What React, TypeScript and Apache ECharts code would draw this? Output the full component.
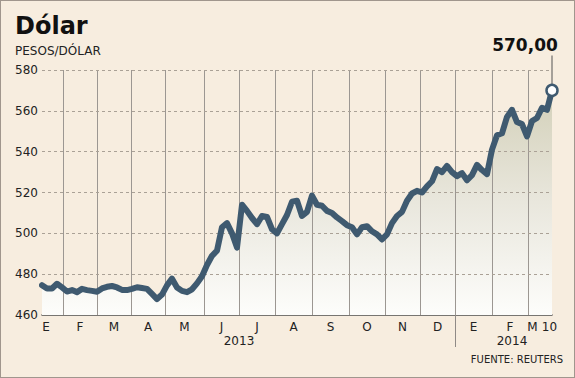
import React, { useEffect, useRef } from 'react';
import * as echarts from 'echarts';

// Daily-ish closing rate samples (pesos per dollar), Jan 2013 -> 10 Mar 2014
const values: number[] = [
  474.6, 473.0, 473.0, 475.3, 473.5, 471.5, 472.2, 471.2, 472.8, 472.2,
  471.8, 471.4, 473.0, 473.8, 474.2, 473.5, 472.3, 472.2, 472.8, 473.6,
  473.2, 472.8, 470.3, 467.8, 470.0, 474.5, 477.8, 473.5, 471.8, 471.2,
  472.6, 475.5, 479.0, 484.5, 489.0, 491.5, 503.0, 505.0, 500.0, 493.0,
  514.0, 511.0, 507.5, 504.5, 508.5, 508.0, 502.0, 500.0, 504.5, 509.0,
  515.5, 516.0, 508.5, 510.5, 518.5, 514.0, 513.5, 511.0, 510.0, 507.8,
  506.0, 504.0, 503.0, 499.5, 503.0, 503.5, 501.0, 499.5, 497.0, 499.5,
  505.0, 508.5, 510.5, 516.0, 519.5, 520.8, 520.0, 523.0, 525.5, 531.5,
  530.0, 533.0, 530.0, 528.0, 529.5, 526.0, 528.5, 533.5, 531.0, 529.0,
  541.0, 548.0, 549.0, 557.0, 560.5, 554.5, 553.5, 547.5, 555.0, 556.5,
  561.5, 560.5, 570.0,
];

// positions on the sample index scale
const monthBoundaries = [4.2, 11, 17.8, 24.6, 32.4, 39.4, 46.6, 54, 61.4, 68.6, 75.6, 82.6, 90, 97.2];
const monthLabels = ['E', 'F', 'M', 'A', 'M', 'J', 'J', 'A', 'S', 'O', 'N', 'D', 'E', 'F', 'M', '10'];
const monthLabelPos = [0.8, 7.6, 14.4, 21.2, 28.5, 35.9, 43, 50.3, 57.7, 65, 72.1, 79.1, 86.3, 93.6, 98.1, 101.5];
const yearLabels = ['2013', '2014'];
const yearLabelPos = [39.4, 94];
const yearSeparator = [82.6];
const yTicks = [480, 500, 520, 540, 560, 580];
const lastLabel = '570,00';

const FONT = 'DejaVu Sans';
const LINE_COLOR = '#3f5a70';

function pick(pos: number[], labels: string[], v: number) {
  const i = pos.findIndex((p) => Math.abs(p - v) < 1e-6);
  return i >= 0 ? labels[i] : '';
}

export default function App() {
  const ref = useRef<HTMLDivElement>(null);
  useEffect(() => {
    if (!ref.current) return;
    const chart = echarts.init(ref.current, null, { renderer: 'svg' });
    const n = values.length - 1;
    const pts = values.map((v, i) => [i, v]);
    const lastVal = values[n];
    chart.setOption({
      animation: false,
      backgroundColor: 'transparent',
      title: [
        { text: 'Dólar', left: 15, top: 14, padding: 0, textStyle: { fontFamily: FONT, fontSize: 24, fontWeight: 'bold', color: '#111' } },
        { text: 'PESOS/DÓLAR', left: 15, top: 45, padding: 0, textStyle: { fontFamily: FONT, fontSize: 12, fontWeight: 'normal', color: '#222' } },
      ],
      graphic: [
        {
          type: 'text', right: 12, top: 354,
          style: { text: 'FUENTE: REUTERS', font: `10px "${FONT}"`, fill: '#222' },
        },
      ],
      grid: { left: 42, right: 23, top: 70, bottom: 63 },
      xAxis: [
        {
          type: 'value', min: 0, max: n,
          axisLine: { show: true, lineStyle: { color: '#4d4d4d', width: 1.5 } },
          axisTick: { show: true, customValues: yearSeparator, length: 32, lineStyle: { color: '#8f8a86', width: 1 } },
          splitLine: { show: false },
          axisLabel: {
            customValues: monthLabelPos, margin: 6,
            fontFamily: FONT, fontSize: 12, color: '#222',
            formatter: (v: number) => pick(monthLabelPos, monthLabels, v),
          },
        },
        {
          type: 'value', min: 0, max: n, position: 'bottom', offset: 14,
          axisLine: { show: false }, axisTick: { show: false }, splitLine: { show: false },
          axisLabel: {
            customValues: yearLabelPos, margin: 6,
            fontFamily: FONT, fontSize: 12, color: '#222',
            formatter: (v: number) => pick(yearLabelPos, yearLabels, v),
          },
        },
      ],
      yAxis: {
        type: 'value', min: 460, max: 580, interval: 20,
        axisLine: { show: false }, axisTick: { show: false }, splitLine: { show: false },
        axisLabel: { margin: 4, fontFamily: FONT, fontSize: 12, color: '#222' },
      },
      series: [
        {
          type: 'line', data: pts, symbol: 'none', z: 1, silent: true,
          lineStyle: { width: 0 },
          areaStyle: {
            opacity: 1,
            color: new echarts.graphic.LinearGradient(0, 0, 0, 1, [
              { offset: 0, color: '#d3d0b9' },
              { offset: 0.5, color: '#e9e7dd' },
              { offset: 1, color: '#fdfdfb' },
            ]),
          },
        },
        {
          type: 'line', data: [], z: 2, silent: true,
          markLine: {
            z: 2, silent: true, symbol: 'none', label: { show: false }, animation: false,
            data: [
              ...monthBoundaries.map((x) => ({ xAxis: x, lineStyle: { color: '#9c9792', width: 1, type: 'solid' } })),
              ...yTicks.map((y) => ({ yAxis: y, lineStyle: { color: '#aaa196', width: 1, type: [3, 3] } })),
            ],
          },
        },
        {
          type: 'line', z: 3, clip: false, symbol: 'none',
          lineStyle: { color: LINE_COLOR, width: 6, join: 'round', cap: 'round' },
          data: pts.map((p, i) =>
            i === n
              ? {
                  value: p, symbol: 'circle', symbolSize: 11,
                  itemStyle: { color: '#ffffff', borderColor: LINE_COLOR, borderWidth: 2.5 },
                  label: {
                    show: true, formatter: lastLabel, position: 'top', offset: [-27, -25],
                    fontFamily: FONT, fontSize: 17, fontWeight: 'bold', color: '#111',
                  },
                }
              : p
          ),
          markPoint: {
            z: 2, silent: true, animation: false,
            label: { show: false },
            data: [
              {
                coord: [n, lastVal], symbol: 'rect', symbolSize: [1, 30], symbolOffset: [0, -20],
                itemStyle: { color: '#555555' },
              },
            ],
          },
        },
      ],
    });
    return () => chart.dispose();
  }, []);
  return (
    <div
      style={{
        position: 'fixed', left: 0, top: 0, width: 575, height: 378, boxSizing: 'border-box',
        background: '#f7eddf', border: '1px solid #a0968d',
      }}
    >
      <div ref={ref} style={{ position: 'absolute', left: -1, top: -1, width: 575, height: 378 }} />
    </div>
  );
}
